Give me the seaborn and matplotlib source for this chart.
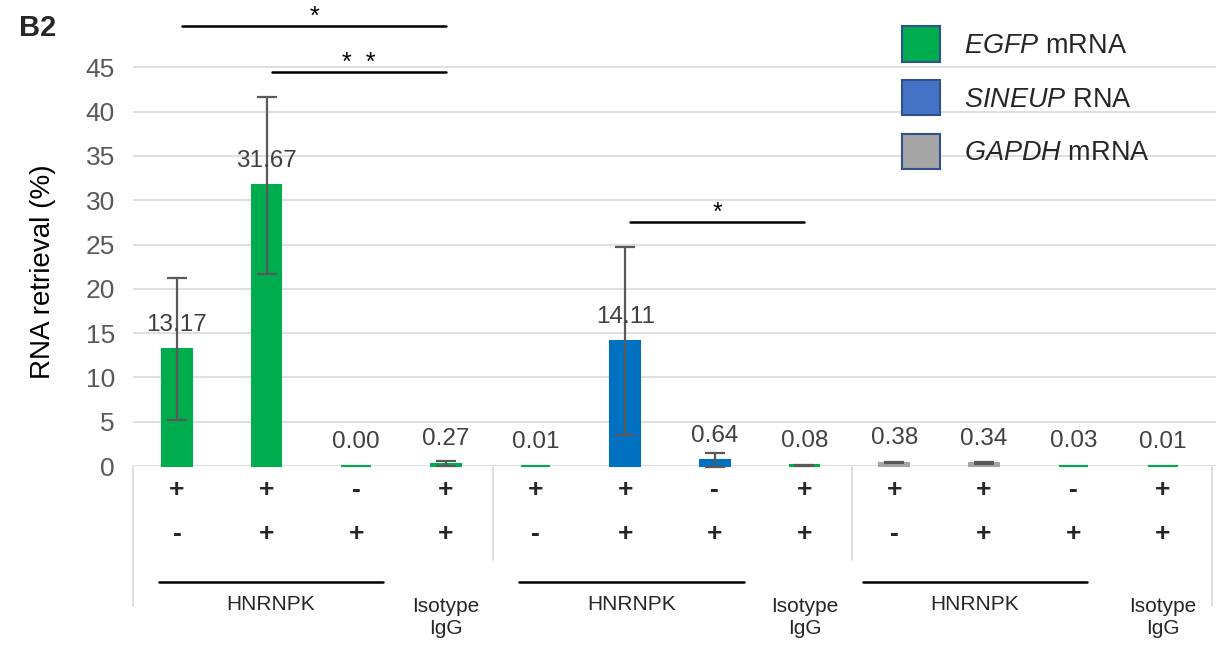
import numpy as np
import pandas as pd
import matplotlib
matplotlib.use("Agg")
import matplotlib.pyplot as plt
import matplotlib.transforms as mtransforms
from matplotlib.patches import Patch
from matplotlib.lines import Line2D
import seaborn as sns

# ---- data -------------------------------------------------------------
conditions = [f"c{i}" for i in range(12)]
retrieval = [13.17, 31.67, 0.00, 0.27, 0.01, 14.11, 0.64, 0.08, 0.38, 0.34, 0.03, 0.01]
errors = [8.0, 9.95, 0.0, 0.3, 0.0, 10.6, 0.8, 0.04, 0.08, 0.08, 0.0, 0.0]
bar_series = ["EGFP", "EGFP", "EGFP", "EGFP", "EGFP", "SINEUP", "SINEUP",
              "EGFP", "GAPDH", "GAPDH", "EGFP", "EGFP"]
row1_signs = ["+", "+", "-", "+", "+", "+", "-", "+", "+", "+", "-", "+"]
row2_signs = ["-", "+", "+", "+", "-", "+", "+", "+", "-", "+", "+", "+"]
group_labels = ["HNRNPK", "HNRNPK", "HNRNPK"]
control_label = "Isotype\nIgG"
control_positions = [3, 7, 11]
yticks = [0, 5, 10, 15, 20, 25, 30, 35, 40, 45]
legend_labels = [r"$\mathit{EGFP}$ mRNA", r"$\mathit{SINEUP}$ RNA", r"$\mathit{GAPDH}$ mRNA"]
# significance brackets: (start bar, end bar, height, stars)
brackets = [(0.06, 3.0, 49.7, "*"), (1.06, 3.0, 44.5, "*  *"), (5.05, 7.0, 27.5, "*")]

bar_colors = {"EGFP": "#00AD4E", "SINEUP": "#0070C0", "GAPDH": "#A5A5A5"}
legend_colors = ["#00AD4E", "#4472C4", "#A5A5A5"]

# ---- style ------------------------------------------------------------
sns.set_style("white")
plt.rcParams["font.family"] = ["Liberation Sans", "DejaVu Sans"]
plt.rcParams["mathtext.fontset"] = "custom"
plt.rcParams["mathtext.it"] = "Liberation Sans:italic"
plt.rcParams["mathtext.rm"] = "Liberation Sans"

W, H = 1216, 649
fig = plt.figure(figsize=(W / 100, H / 100), dpi=100)
ax = fig.add_axes([133 / W, 1 - 466 / H, 1083 / W, 466 / H])

df = pd.DataFrame({"condition": conditions, "retrieval": retrieval,
                   "series": bar_series})
palette = {c: bar_colors[s] for c, s in zip(conditions, bar_series)}
sns.barplot(data=df, x="condition", y="retrieval", hue="condition",
            order=conditions, palette=palette, saturation=1, width=0.33,
            dodge=False, legend=False, errorbar=None, ax=ax, zorder=3)
for p in ax.patches:
    p.set_edgecolor(p.get_facecolor())
    p.set_linewidth(1.5)
    p.set_clip_on(False)

# error bars
x = np.arange(len(conditions))
err = np.array(errors)
mask = err > 0
ax.errorbar(x[mask], np.array(retrieval)[mask], yerr=err[mask], fmt="none",
            ecolor="#595959", elinewidth=1.6, capsize=7, capthick=1.6, zorder=4,
            clip_on=False)

# value labels
for xi, v in zip(x, retrieval):
    ax.annotate(f"{v:.2f}", (xi, v), xytext=(0, 17.5), textcoords="offset points",
                ha="center", va="center", fontsize=17.5, color="#404040", zorder=5)

ax.set_xlim(-0.49, 11.59)
ax.set_ylim(0, 52.6)
ax.set_yticks(yticks)
ax.yaxis.grid(True, color="#D9D9D9", linewidth=1.2, zorder=0)
ax.set_axisbelow(True)
ax.tick_params(axis="y", length=0, pad=13, labelsize=19, labelcolor="#595959")
ax.set_xticks([])
ax.set_xlabel("")
for s in ax.spines.values():
    s.set_visible(False)

ax.set_ylabel("RNA retrieval (%)", fontsize=20, color="black")
ax.yaxis.set_label_coords((56 - 133) / 1083, (466 - 272) / 466)

# significance brackets
for x0, x1, h, stars in brackets:
    ax.plot([x0, x1], [h, h], color="black", lw=1.8, clip_on=False, zorder=5)
    ax.text((x0 + x1) / 2, h + 0.25, stars, ha="center", va="baseline",
            fontsize=18, color="black", clip_on=False)

# condition table under the bars
tr = mtransforms.blended_transform_factory(ax.transData, fig.transFigure)
def fy(py):
    return 1 - py / H

for xi, s1, s2 in zip(x, row1_signs, row2_signs):
    fig.text(xi, fy(490), s1, transform=tr, ha="center", va="center",
             fontsize=19, fontweight="bold")
    fig.text(xi, fy(534), s2, transform=tr, ha="center", va="center",
             fontsize=19, fontweight="bold")

for xb, bottom in [(-0.49, 606), (3.53, 560), (7.53, 560), (11.55, 606)]:
    fig.add_artist(Line2D([xb, xb], [fy(467), fy(bottom)], transform=tr,
                          color="#D9D9D9", lw=1.2))

spans = [(-0.2, 2.3), (3.82, 6.33), (7.65, 10.15)]
for (a, b), lab in zip(spans, group_labels):
    fig.add_artist(Line2D([a, b], [fy(582), fy(582)], transform=tr,
                          color="black", lw=1.8))
    fig.text((a + b) / 2, fy(605), lab, transform=tr, ha="center",
             va="center", fontsize=15)
for xp in control_positions:
    fig.text(xp, fy(617), control_label, transform=tr, ha="center",
             va="center", fontsize=15, linespacing=1.2)

# panel letter
fig.text(19 / W, fy(28), "B2", ha="left", va="center", fontsize=21,
         fontweight="bold")

# legend
handles = [Patch(facecolor=c, edgecolor="#2F528F", linewidth=1.5)
           for c in legend_colors]
fig.legend(handles, legend_labels, loc="upper left",
           bbox_to_anchor=(902 / W, fy(26)), frameon=False, fontsize=19.5,
           handlelength=1.42, handleheight=1.64, labelspacing=0.68,
           handletextpad=0.87, borderpad=0, borderaxespad=0)

fig.savefig("out.png", dpi=100)
